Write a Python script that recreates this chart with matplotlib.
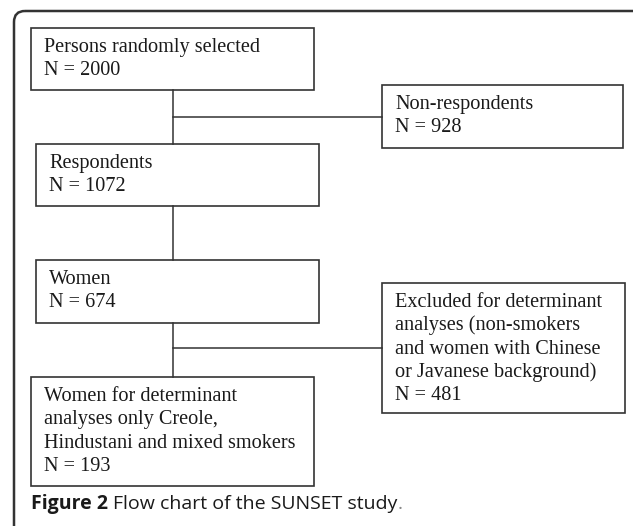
import matplotlib
matplotlib.use('Agg')
import matplotlib.pyplot as plt
from matplotlib.patches import Rectangle, FancyBboxPatch

# 흐름도 내용
box_texts = [
    ['Persons randomly selected', 'N = 2000'],
    ['Non-respondents', 'N = 928'],
    ['Respondents', 'N = 1072'],
    ['Women', 'N = 674'],
    ['Excluded for determinant', 'analyses (non-smokers',
     'and women with Chinese', 'or Javanese background)', 'N = 481'],
    ['Women for determinant', 'analyses only Creole,',
     'Hindustani and mixed smokers', 'N = 193'],
]
counts = [2000, 928, 1072, 674, 481, 193]

# 상자 배치 (left, top, right, bottom) 픽셀 기준
box_pos = [
    (31, 28, 314, 90),
    (382, 85, 623, 148),
    (36, 144, 319, 206),
    (36, 260, 319, 323),
    (382, 283, 625, 413),
    (31, 377, 314, 486),
]

W, H = 633, 526
fig = plt.figure(figsize=(W / 100, H / 100), dpi=100)
ax = fig.add_axes([0, 0, 1, 1])
ax.set_xlim(0, W)
ax.set_ylim(H, 0)
ax.axis('off')

edge = '#333333'

# 바깥 테두리 (왼쪽 위 둥근 모서리)
frame = FancyBboxPatch((14, 11), 640, 560, boxstyle='round,pad=0,rounding_size=11',
                       fill=False, ec='#333333', lw=1.8)
ax.add_patch(frame)

# 연결선
ax.plot([172.5, 172.5], [90, 144], color=edge, lw=1.1)
ax.plot([172.5, 382], [117, 117], color=edge, lw=1.1)
ax.plot([172.5, 172.5], [206, 260], color=edge, lw=1.1)
ax.plot([172.5, 172.5], [323, 377], color=edge, lw=1.1)
ax.plot([172.5, 382], [348, 348], color=edge, lw=1.1)

# 상자와 글자
for (l, t, r, b), lines in zip(box_pos, box_texts):
    ax.add_patch(Rectangle((l, t), r - l, b - t, fill=False, ec=edge, lw=1.2))
    for k, line in enumerate(lines):
        ax.text(l + 13, t + 24 + k * 23.3, line, family='Liberation Serif',
                fontsize=14.6, color='#1a1a1a', va='baseline', ha='left')

# 그림 설명
fs = 14
fig.canvas.draw()
r = fig.canvas.get_renderer()
t1 = ax.text(31, 509, 'Figure 2', family='Open Sans', fontweight='bold',
             fontsize=fs, color='#1a1a1a', va='baseline', ha='left')
bb = t1.get_window_extent(r)
x2 = ax.transData.inverted().transform((bb.x1, bb.y0))[0] + 5
t2 = ax.text(x2, 509, 'Flow chart of the SUNSET study', family='Open Sans',
             fontsize=fs, color='#1a1a1a', va='baseline', ha='left')
bb2 = t2.get_window_extent(r)
x3 = ax.transData.inverted().transform((bb2.x1, bb2.y0))[0]
ax.text(x3, 509, '.', family='Open Sans', fontsize=fs, color='#888888',
        va='baseline', ha='left')

fig.savefig('out.png', dpi=100)
